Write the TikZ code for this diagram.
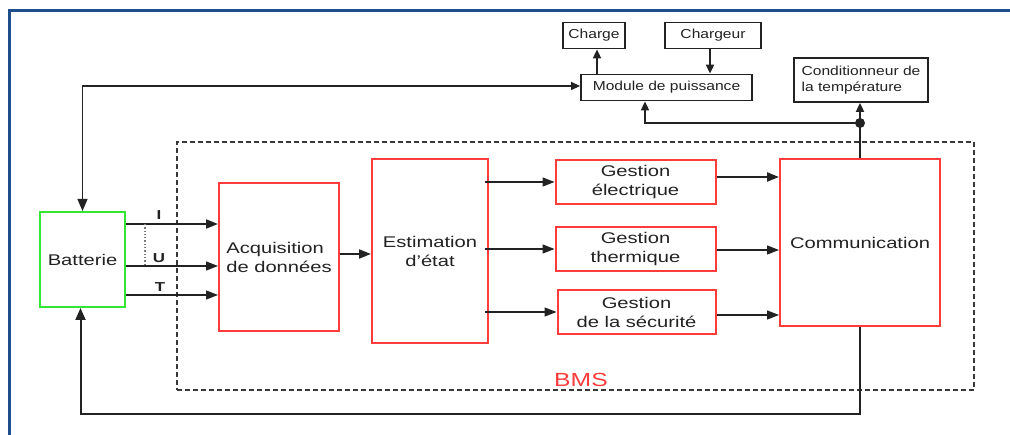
\documentclass[tikz,border=0pt]{standalone}
\usepackage{fontspec}
\setmainfont{Liberation Sans}[FakeStretch=1.3]
\newfontfamily\topfont{Liberation Sans}[FakeStretch=1.2]
\usetikzlibrary{arrows.meta}
\definecolor{frameblue}{HTML}{1F4E8C}
\definecolor{bred}{HTML}{FF3B3B}
\definecolor{bgreen}{HTML}{33E633}
\definecolor{ink}{HTML}{222222}
\tikzset{
  redbox/.style={draw=bred, line width=2pt, inner sep=0pt, rectangle, text=ink,
    font=\fontsize{15.5}{19}\selectfont},
  greenbox/.style={draw=bgreen, line width=2pt, inner sep=0pt, rectangle, text=ink,
    font=\fontsize{15.5}{19}\selectfont},
  topbox/.style={draw=ink, line width=1.8pt, inner sep=0pt, rectangle, text=ink,
    font=\topfont\fontsize{13}{16}\selectfont},
  bigarrow/.style={draw=ink, line width=1.3pt, -{Triangle[length=12pt,width=9pt]}},
  thickarrow/.style={draw=ink, line width=2pt, -{Triangle[length=12pt,width=9pt]}},
  smallarrow/.style={draw=ink, line width=1.8pt, -{Triangle[length=9pt,width=8pt]}},
  sig/.style={font=\bfseries\fontsize{13}{14}\selectfont, text=ink, inner sep=0pt}
}
\begin{document}
\begin{tikzpicture}[x=1pt,y=-1pt]
\useasboundingbox (0,0) rectangle (1010,435);
\fill[white] (0,0) rectangle (1010,435);
% blue frame
\draw[frameblue, line width=3pt] (9,435) -- (9,11) -- (1010,11);

% BMS dashed area
\node[draw=ink!90, line width=1.8pt, dash pattern=on 5pt off 3pt, minimum width=797pt, minimum height=248pt, inner sep=0pt] (bms) at (575.5,266) {};
\node[text=bred, font=\fontsize{19}{20}\selectfont, inner sep=0pt] (bmslabel) at (581,380) {BMS};

% main nodes
\node[greenbox, minimum width=85pt, minimum height=95pt] (bat) at (82.5,259.5) {Batterie};
\node[redbox, minimum width=120pt, minimum height=148pt, align=left] (acq) at (279,257) {Acquisition\\de données};
\node[redbox, minimum width=116pt, minimum height=184pt, align=center] (est) at (430,251) {Estimation\\d'état};
\node[redbox, minimum width=160pt, minimum height=44pt, align=center] (gel) at (635.5,182) {Gestion\\électrique};
\node[redbox, minimum width=160pt, minimum height=44pt, align=center] (gth) at (635.5,249) {Gestion\\thermique};
\node[redbox, minimum width=158pt, minimum height=44pt, align=center] (gse) at (636.5,312) {Gestion\\de la sécurité};
\node[redbox, minimum width=160pt, minimum height=167pt] (com) at (860,243) {Communication};

% top nodes
\node[topbox, minimum width=171pt, minimum height=26pt] (mod) at (666.5,87.5) {Module de puissance};
\node[topbox, minimum width=62pt, minimum height=26pt] (chg) at (594,35.5) {Charge};
\node[topbox, minimum width=96pt, minimum height=26pt] (chr) at (713,35.5) {Chargeur};
\node[topbox, minimum width=134pt, minimum height=44pt, align=left] (cond) at (861,80) {Conditionneur de\\la température};

% helper coordinates
\coordinate (yI) at (0,224);
\coordinate (yU) at (0,266);
\coordinate (yT) at (0,295);
\coordinate (yB) at (0,414);
\coordinate (ydot) at (0,123);
\coordinate (xm) at (645,0);
\coordinate (xcg) at (597,0);
\coordinate (xcr) at (710,0);
\coordinate (xd) at (145,0);

% battery signals
\draw[thickarrow] (yI -| bat.east) -- (yI -| acq.west);
\draw[bigarrow] (yU -| bat.east) -- (yU -| acq.west);
\draw[bigarrow] (yT -| bat.east) -- (yT -| acq.west);
\draw[ink!60, line width=1.3pt, dotted] (xd |- yI) -- (xd |- yU);
\node[sig] (lI) at (159,215) {I};
\node[sig] (lU) at (159,258) {U};
\node[sig] (lT) at (160,287) {T};

% acquisition -> estimation
\draw[thickarrow] ([yshift=3pt]acq.east) -- ([yshift=3pt]acq.east -| est.west);

% estimation -> gestion
\draw[bigarrow] ([xshift=-4pt]est.east |- gel.west) -- (gel.west);
\draw[bigarrow] ([xshift=-4pt]est.east |- gth.west) -- (gth.west);
\draw[bigarrow] ([xshift=-4pt]est.east |- gse.west) -- (gse.west);

% gestion -> communication
\draw[thickarrow] ([yshift=5pt]gel.east) -- ([yshift=5pt]gel.east -| com.west);
\draw[bigarrow] ([yshift=-1pt]gth.east) -- ([yshift=-1pt]gth.east -| com.west);
\draw[bigarrow] ([yshift=-3pt]gse.east) -- ([yshift=-3pt]gse.east -| com.west);

% communication -> top
\node[circle, fill=ink, inner sep=0pt, minimum size=10pt] (dot) at (com.north |- ydot) {};
\draw[ink, line width=2pt] (com.north) -- (dot.center);
\draw[smallarrow] (dot.center) -- (dot.center |- cond.south);
\draw[smallarrow] (dot.center) -| (xm |- mod.south);

% module <-> charge / chargeur
\draw[smallarrow] (xcg |- mod.north) -- (xcg |- chg.south);
\draw[smallarrow] (xcr |- chr.south) -- (xcr |- mod.north);

% battery <-> module
\draw[ink, line width=1.3pt, {Triangle[length=12pt,width=10pt]}-{Triangle[length=9pt,width=8pt]}] (bat.north) |- ([yshift=1.5pt]mod.west);

% feedback communication -> battery
\draw[ink, line width=2pt, -{Triangle[length=12pt,width=10pt]}] (com.south) -- (com.south |- yB) -| ([xshift=-2pt]bat.south);
\end{tikzpicture}
\end{document}
